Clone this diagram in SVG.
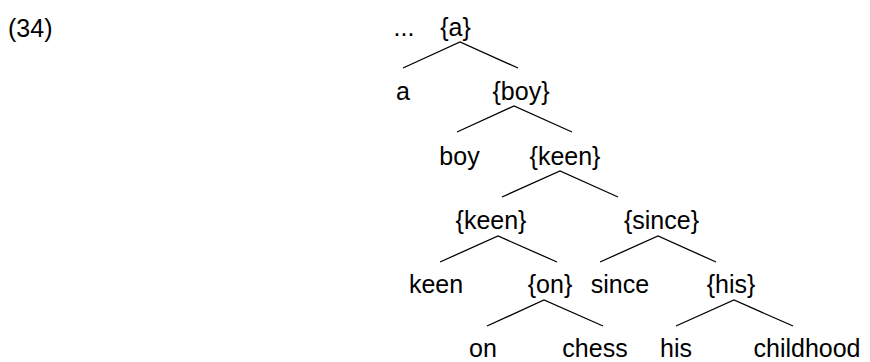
<svg xmlns="http://www.w3.org/2000/svg" width="870" height="362" viewBox="0 0 870 362">
  <style>
    text { font-family: "Liberation Sans", Arial, sans-serif; font-size: 25px; fill: #000; text-anchor: middle; }
    .edge { stroke: #000; stroke-width: 1.3; fill: none; }
  </style>
  <rect width="870" height="362" fill="#fff"/>
  <text id="example-number" x="8" y="36.5" style="text-anchor:start">(34)</text>

  <!-- tree edges -->
  <g id="connectors">
    <path class="edge" d="M403,68 L460,42 L518,68"/>
    <path class="edge" d="M457,132 L514,106 L572,132"/>
    <path class="edge" d="M502,197 L560,171 L618,197"/>
    <path class="edge" d="M440,262 L498,236 L557,262"/>
    <path class="edge" d="M600,262 L658,236 L716,262"/>
    <path class="edge" d="M487,326 L544,300 L603,326"/>
    <path class="edge" d="M676,326 L734,300 L793,326"/>
  </g>

  <g id="n-ellipsis"><text x="404" y="36">...</text></g>
  <g id="n-a-set"><text x="455.5" y="36">{a}</text></g>
  <g id="n-a"><text x="403" y="100">a</text></g>
  <g id="n-boy-set"><text x="521" y="100">{boy}</text></g>
  <g id="n-boy"><text x="459.5" y="164.5">boy</text></g>
  <g id="n-keen-set-1"><text x="565" y="164.5">{keen}</text></g>
  <g id="n-keen-set-2"><text x="491" y="229">{keen}</text></g>
  <g id="n-since-set"><text x="661.5" y="229">{since}</text></g>
  <g id="n-keen"><text x="436" y="293">keen</text></g>
  <g id="n-on-set"><text x="550" y="293">{on}</text></g>
  <g id="n-since"><text x="620" y="293">since</text></g>
  <g id="n-his-set"><text x="731" y="293">{his}</text></g>
  <g id="n-on"><text x="483" y="357">on</text></g>
  <g id="n-chess"><text x="595" y="357">chess</text></g>
  <g id="n-his"><text x="676" y="357">his</text></g>
  <g id="n-childhood"><text x="807" y="357">childhood</text></g>
</svg>
